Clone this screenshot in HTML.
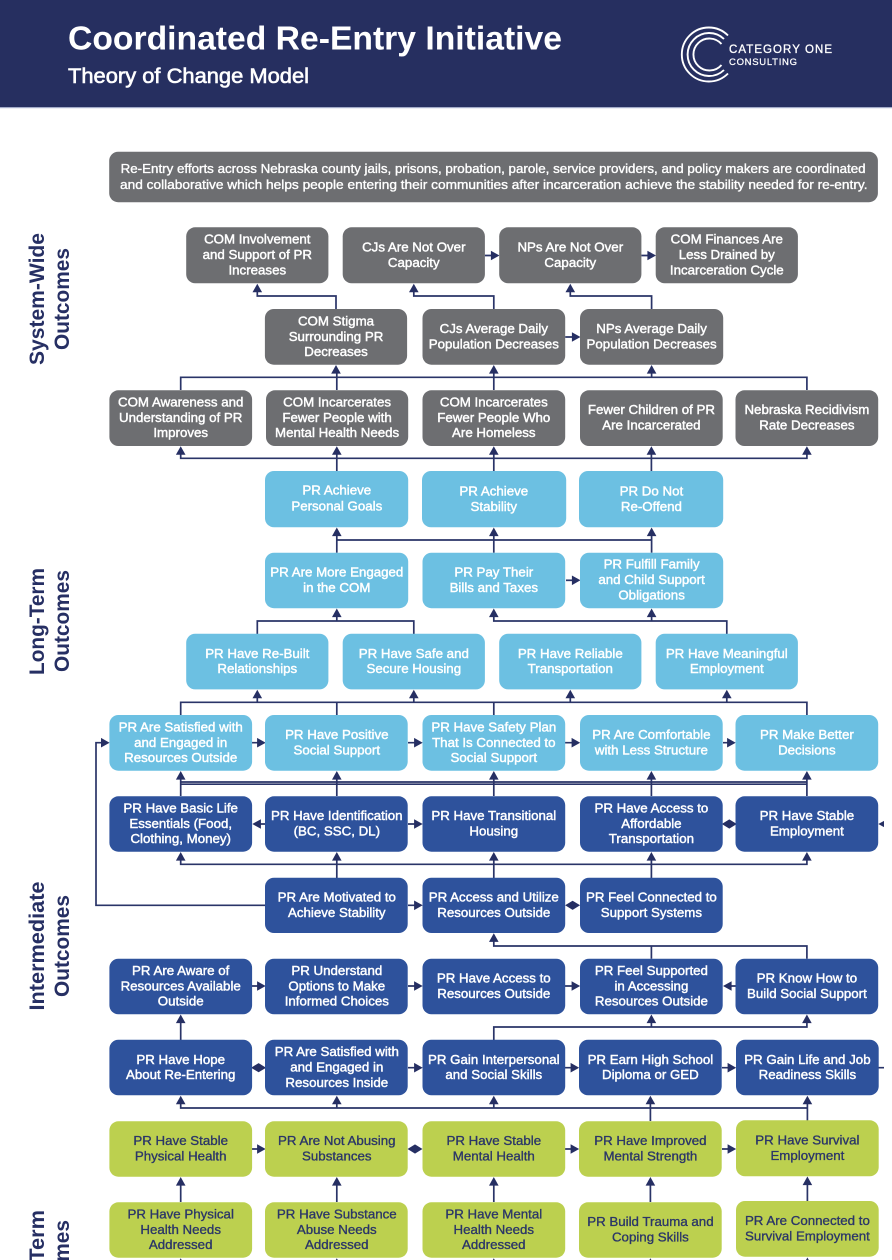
<!DOCTYPE html>
<html><head><meta charset="utf-8"><title>Coordinated Re-Entry Initiative</title>
<style>
html,body{margin:0;padding:0;background:#fff;width:892px;height:1260px;overflow:hidden}
svg{display:block;overflow:hidden}
text{font-family:"Liberation Sans",sans-serif}
.b text{font-size:13.3px;font-weight:400;text-anchor:middle;fill:#fff;stroke:#fff;stroke-width:.44px}
.b.g text{fill:#2b3668;stroke:#2b3668;stroke-width:.34px}
</style></head><body>
<svg width="892" height="1260" viewBox="0 0 892 1260" xmlns="http://www.w3.org/2000/svg">
<defs>
<path id="u" d="M0 0L4.8 8.6H-4.8Z" fill="#262f63"/>
<path id="r" d="M0 0L-8.6 -4.8V4.8Z" fill="#262f63"/>
<path id="l" d="M0 0L8.6 -4.8V4.8Z" fill="#262f63"/>
<path id="d" d="M-7.5 0L0 -4.6L7.5 0L0 4.6Z" fill="#262f63"/>
<clipPath id="c"><rect width="884" height="1260"/></clipPath>
<clipPath id="p"><rect width="892" height="1260"/></clipPath>
</defs>
<g clip-path="url(#p)">
<rect width="892" height="1260" fill="#fff"/>
<rect width="892" height="107" fill="#262f60"/>
<rect y="107" width="892" height="1.2" fill="#a3abc9"/>
<text x="68" y="49.5" font-size="33" font-weight="700" fill="#fff" textLength="494" lengthAdjust="spacingAndGlyphs">Coordinated Re-Entry Initiative</text>
<text x="68" y="83" font-size="21" fill="#fff" stroke="#fff" stroke-width=".6" textLength="241" lengthAdjust="spacingAndGlyphs">Theory of Change Model</text>
<g fill="none" stroke="#fff" stroke-width="1.9">
<path d="M728 35.5A27 27 0 1 0 728 73.5"/>
<path d="M724 39A21.5 21.5 0 1 0 724 70"/>
<path d="M721.5 44A16 16 0 1 0 721.5 65"/>
</g>
<text x="729" y="53" font-size="11.5" fill="#fff" stroke="#fff" stroke-width=".3" textLength="103" lengthAdjust="spacing">CATEGORY ONE</text>
<text x="729" y="65" font-size="9.5" fill="#fff" stroke="#fff" stroke-width=".25" textLength="68" lengthAdjust="spacing">CONSULTING</text>

<rect x="109.2" y="151.7" width="768.7" height="50.5" rx="9" fill="#6d6e71"/>
<text x="120.6" y="173" font-size="13" fill="#fff" stroke="#fff" stroke-width=".36" textLength="745" lengthAdjust="spacingAndGlyphs">Re-Entry efforts across Nebraska county jails, prisons, probation, parole, service providers, and policy makers are coordinated</text>
<text x="120" y="189" font-size="13" fill="#fff" stroke="#fff" stroke-width=".36" textLength="747.5" lengthAdjust="spacingAndGlyphs">and collaborative which helps people entering their communities after incarceration achieve the stability needed for re-entry.</text>

<g font-size="21" font-weight="700" fill="#262f63" text-anchor="middle">
<text transform="translate(44,299) rotate(-90)" textLength="132" lengthAdjust="spacingAndGlyphs">System-Wide</text>
<text transform="translate(69,299) rotate(-90)" textLength="102" lengthAdjust="spacingAndGlyphs">Outcomes</text>
<text transform="translate(44,621.5) rotate(-90)" textLength="107" lengthAdjust="spacingAndGlyphs">Long-Term</text>
<text transform="translate(69,621) rotate(-90)" textLength="102" lengthAdjust="spacingAndGlyphs">Outcomes</text>
<text transform="translate(44,946) rotate(-90)" textLength="129" lengthAdjust="spacingAndGlyphs">Intermediate</text>
<text transform="translate(69,946) rotate(-90)" textLength="102" lengthAdjust="spacingAndGlyphs">Outcomes</text>
<text transform="translate(44,1268) rotate(-90)" textLength="116" lengthAdjust="spacingAndGlyphs">Short-Term</text>
<text transform="translate(69,1271) rotate(-90)" textLength="102" lengthAdjust="spacingAndGlyphs">Outcomes</text>
</g>

<!-- connectors -->
<g clip-path="url(#c)">
<g fill="none" stroke="#2a3468" stroke-width="1.7">
<path d="M257.3 290V296H336V309M413.8 290V296H493.8V309M570.3 290V296H651.6V309"/>
<path d="M484.9 255.5H496M641.4 255.5H653M565.2 337H575"/>
<path d="M180.7 390V377.3H806.9V390M336.8 372V390M493.8 372V390M651.6 372V377.3"/>
<path d="M180.7 453V458.3H806.9V453M336.8 453V471M493.8 453V471M651.4 453V471"/>
<path d="M336.8 535V552.7M493.8 535V552.7M651.6 535V552.7M336.8 540H651.6"/>
<path d="M566 580.3H575"/>
<path d="M257.3 634V621H413.8V634M336.8 616V621M493.8 616V621H726.8V634M651.6 616V621"/>
<path d="M180.7 715V702.3H806.9V715M257.3 697V702.3M413.8 697V702.3M570.3 697V702.3M726.8 697V702.3M336.8 702.3V715M493.8 702.3V715"/>
<path d="M252 742.7H260M408 742.7H417M565 742.7H575M723 742.7H731"/>
<path d="M265.5 905.3H96V742.7H104M408 905.3H417"/>
<path d="M180.7 778V796M336.8 778V796M493.8 778V796M651.4 778V796M806.9 778V796M180.7 782H806.9M180.7 784.2H806.9"/>
<path d="M265.5 824H258M408 824H417"/>
<path d="M180.7 859V864.3H806.9V859M336.8 859V878M493.8 859V878M651.4 859V878"/>
<path d="M493.8 941V946H806.9V958.7M651.4 946V958.7"/>
<path d="M252 986H260M408 986H417M565 986H575M736 986H729"/>
<path d="M180.7 1022V1040M493.8 1040V1027H806.9V1022M651.4 1022V1027"/>
<path d="M408 1067.7H417M565 1067.7H575M722 1067.7H730M878.5 1067.7H884"/>
<path d="M180.7 1103V1108H807.4V1103M336.8 1103V1108M493.8 1103V1108M650.4 1103V1121M807.4 1103V1121"/>
<path d="M252 1149H260M565 1149H575M722 1149H731"/>
<path d="M180.7 1184V1202M336.8 1184V1202M493.8 1184V1202M650.4 1184V1202M807.4 1183V1201"/>
</g>
<use href="#u" x="257.3" y="283.7"/><use href="#u" x="413.8" y="283.7"/><use href="#u" x="570.3" y="283.7"/>
<use href="#r" x="499.5" y="255.5"/><use href="#r" x="656" y="255.5"/><use href="#r" x="580.5" y="337"/>
<use href="#u" x="336" y="365"/><use href="#u" x="493.8" y="365"/><use href="#u" x="651.6" y="365"/>
<use href="#u" x="180.7" y="446.2"/><use href="#u" x="336.8" y="446.2"/><use href="#u" x="493.8" y="446.2"/><use href="#u" x="651.4" y="446.2"/><use href="#u" x="806.9" y="446.2"/>
<use href="#u" x="336.8" y="527.5"/><use href="#u" x="493.8" y="527.5"/><use href="#u" x="651.6" y="527.5"/>
<use href="#r" x="580.5" y="580.3"/>
<use href="#u" x="336.8" y="608.5"/><use href="#u" x="493.8" y="608.5"/><use href="#u" x="651.6" y="608.5"/>
<use href="#u" x="257.3" y="689.7"/><use href="#u" x="413.8" y="689.7"/><use href="#u" x="570.3" y="689.7"/><use href="#u" x="726.8" y="689.7"/>
<use href="#r" x="109.6" y="742.7"/><use href="#r" x="265.7" y="742.7"/><use href="#r" x="422.7" y="742.7"/><use href="#r" x="580.2" y="742.7"/><use href="#r" x="735.7" y="742.7"/>
<use href="#u" x="180.7" y="771"/><use href="#u" x="336.8" y="771"/><use href="#u" x="493.8" y="771"/><use href="#u" x="651.4" y="771"/><use href="#u" x="806.9" y="771"/>
<use href="#l" x="252.3" y="824"/><use href="#r" x="422.7" y="824"/><use href="#d" x="729.3" y="824"/><use href="#l" x="878.3" y="824"/>
<use href="#u" x="180.7" y="852"/><use href="#u" x="336.8" y="852"/><use href="#u" x="493.8" y="852"/><use href="#u" x="651.4" y="852"/><use href="#u" x="806.9" y="852"/>
<use href="#r" x="422.7" y="905.3"/><use href="#d" x="572.6" y="905.3"/>
<use href="#u" x="493.8" y="933.3"/>
<use href="#r" x="265.7" y="986"/><use href="#r" x="422.7" y="986"/><use href="#r" x="580.2" y="986"/><use href="#l" x="723" y="986"/>
<use href="#u" x="180.7" y="1014.5"/><use href="#u" x="651.4" y="1014.5"/><use href="#u" x="806.9" y="1014.5"/>
<use href="#d" x="258.6" y="1067.7"/><use href="#r" x="422.7" y="1067.7"/><use href="#r" x="579.2" y="1067.7"/><use href="#r" x="736.2" y="1067.7"/>
<use href="#u" x="180.7" y="1095.7"/><use href="#u" x="336.8" y="1095.7"/><use href="#u" x="493.8" y="1095.7"/><use href="#u" x="650.4" y="1095.7"/><use href="#u" x="807.4" y="1095.7"/>
<use href="#r" x="265.7" y="1149"/><use href="#d" x="415" y="1149"/><use href="#r" x="579.2" y="1149"/><use href="#r" x="736.2" y="1149"/>
<use href="#u" x="180.7" y="1177"/><use href="#u" x="336.8" y="1177"/><use href="#u" x="493.8" y="1177"/><use href="#u" x="650.4" y="1177"/><use href="#u" x="807.4" y="1176.5"/>
<use href="#u" x="180.7" y="1258.2"/><use href="#u" x="336.8" y="1258.2"/><use href="#u" x="493.8" y="1258.2"/><use href="#u" x="650.4" y="1258.2"/><use href="#u" x="807.4" y="1257.5"/>
</g>

<!-- gray boxes -->
<g fill="#6d6e71">
<rect x="186.2" y="227.3" width="142.2" height="56" rx="9"/><rect x="342.7" y="227.3" width="142.2" height="56" rx="9"/><rect x="499.2" y="227.3" width="142.2" height="56" rx="9"/><rect x="655.7" y="227.3" width="142.2" height="56" rx="9"/>
<rect x="264.9" y="309" width="142.2" height="55.7" rx="9"/><rect x="422.5" y="309" width="142.7" height="55.7" rx="9"/><rect x="580" y="309" width="143.2" height="55.7" rx="9"/>
<rect x="109.4" y="390.3" width="142.7" height="55.7" rx="9"/><rect x="266" y="390.3" width="142.2" height="55.7" rx="9"/><rect x="422.5" y="390.3" width="142.7" height="55.7" rx="9"/><rect x="580" y="390.3" width="142.7" height="55.7" rx="9"/><rect x="735.5" y="390.3" width="142.7" height="55.7" rx="9"/>
</g>
<!-- light blue -->
<g fill="#6cc0e2">
<rect x="265" y="471" width="143.2" height="56.3" rx="9"/><rect x="422" y="471" width="144.2" height="56.3" rx="9"/><rect x="579" y="471" width="144.2" height="56.3" rx="9"/>
<rect x="265" y="552.7" width="143.2" height="55.5" rx="9"/><rect x="422.5" y="552.7" width="142.7" height="55.5" rx="9"/><rect x="580" y="552.7" width="143.2" height="55.5" rx="9"/>
<rect x="186.2" y="633.7" width="142.2" height="55.7" rx="9"/><rect x="342.7" y="633.7" width="142.2" height="55.7" rx="9"/><rect x="499.2" y="633.7" width="142.2" height="55.7" rx="9"/><rect x="655.7" y="633.7" width="142.2" height="55.7" rx="9"/>
<rect x="109.4" y="715" width="142.7" height="55.7" rx="9"/><rect x="265" y="715" width="142.7" height="55.7" rx="9"/><rect x="422.5" y="715" width="142.7" height="55.7" rx="9"/><rect x="580" y="715" width="142.7" height="55.7" rx="9"/><rect x="735.5" y="715" width="142.7" height="55.7" rx="9"/>
</g>
<!-- dark blue -->
<g fill="#2e529c">
<rect x="109.4" y="796.3" width="142.7" height="55.4" rx="9"/><rect x="265" y="796.3" width="142.7" height="55.4" rx="9"/><rect x="422.5" y="796.3" width="142.7" height="55.4" rx="9"/><rect x="580" y="796.3" width="142.7" height="55.4" rx="9"/><rect x="735.5" y="796.3" width="142.7" height="55.4" rx="9"/>
<rect x="265" y="877.7" width="142.7" height="55.3" rx="9"/><rect x="422.5" y="877.7" width="142.7" height="55.3" rx="9"/><rect x="580" y="877.7" width="142.7" height="55.3" rx="9"/>
<rect x="109.4" y="958.7" width="142.7" height="55.6" rx="9"/><rect x="265" y="958.7" width="142.7" height="55.6" rx="9"/><rect x="422.5" y="958.7" width="142.7" height="55.6" rx="9"/><rect x="580" y="958.7" width="142.7" height="55.6" rx="9"/><rect x="735.5" y="958.7" width="142.7" height="55.6" rx="9"/>
<rect x="109.4" y="1039.7" width="142.7" height="55.6" rx="9"/><rect x="265" y="1039.7" width="142.7" height="55.6" rx="9"/><rect x="422.5" y="1039.7" width="142.7" height="55.6" rx="9"/><rect x="579" y="1039.7" width="142.7" height="55.6" rx="9"/><rect x="736" y="1039.7" width="142.7" height="55.6" rx="9"/>
</g>
<!-- green -->
<g fill="#bcd04f">
<rect x="109.4" y="1121.3" width="142.7" height="55.4" rx="9"/><rect x="265" y="1121.3" width="142.7" height="55.4" rx="9"/><rect x="422.5" y="1121.3" width="142.7" height="55.4" rx="9"/><rect x="579" y="1121.3" width="142.7" height="55.4" rx="9"/><rect x="736" y="1120.3" width="142.7" height="56" rx="9"/>
<rect x="109.4" y="1202.3" width="142.7" height="55.4" rx="9"/><rect x="265" y="1202.3" width="142.7" height="55.4" rx="9"/><rect x="422.5" y="1202.3" width="142.7" height="55.4" rx="9"/><rect x="579" y="1202.3" width="142.7" height="55.4" rx="9"/><rect x="736" y="1201" width="142.7" height="55.7" rx="9"/>
</g>

<g class="b" transform="translate(0,-0.7)">
<!-- row 1 -->
<text x="257.3" y="244.4">COM Involvement</text><text x="257.3" y="259.8">and Support of PR</text><text x="257.3" y="275.2">Increases</text>
<text x="413.8" y="252.1">CJs Are Not Over</text><text x="413.8" y="267.5">Capacity</text>
<text x="570.3" y="252.1">NPs Are Not Over</text><text x="570.3" y="267.5">Capacity</text>
<text x="726.8" y="244.4">COM Finances Are</text><text x="726.8" y="259.8">Less Drained by</text><text x="726.8" y="275.2">Incarceration Cycle</text>
<!-- row 2 -->
<text x="336" y="326.1">COM Stigma</text><text x="336" y="341.5">Surrounding PR</text><text x="336" y="356.9">Decreases</text>
<text x="493.8" y="333.8">CJs Average Daily</text><text x="493.8" y="349.2">Population Decreases</text>
<text x="651.6" y="333.8">NPs Average Daily</text><text x="651.6" y="349.2">Population Decreases</text>
<!-- row 3 -->
<text x="180.7" y="407.1">COM Awareness and</text><text x="180.7" y="422.5">Understanding of PR</text><text x="180.7" y="437.9">Improves</text>
<text x="337.1" y="407.1">COM Incarcerates</text><text x="337.1" y="422.5">Fewer People with</text><text x="337.1" y="437.9">Mental Health Needs</text>
<text x="493.8" y="407.1">COM Incarcerates</text><text x="493.8" y="422.5">Fewer People Who</text><text x="493.8" y="437.9">Are Homeless</text>
<text x="651.4" y="414.8">Fewer Children of PR</text><text x="651.4" y="430.2">Are Incarcerated</text>
<text x="806.9" y="414.8">Nebraska Recidivism</text><text x="806.9" y="430.2">Rate Decreases</text>
<!-- row 4 -->
<text x="336.8" y="495.2">PR Achieve</text><text x="336.8" y="511">Personal Goals</text>
<text x="493.8" y="496.1">PR Achieve</text><text x="493.8" y="511.5">Stability</text>
<text x="651.4" y="496.1">PR Do Not</text><text x="651.4" y="511.5">Re-Offend</text>
<!-- row 5 -->
<text x="336.8" y="577.1">PR Are More Engaged</text><text x="336.8" y="592.5">in the COM</text>
<text x="493.8" y="577.1">PR Pay Their</text><text x="493.8" y="592.5">Bills and Taxes</text>
<text x="651.6" y="569.4">PR Fulfill Family</text><text x="651.6" y="584.8">and Child Support</text><text x="651.6" y="600.2">Obligations</text>
<!-- row 6 -->
<text x="257.3" y="658.5">PR Have Re-Built</text><text x="257.3" y="673.9">Relationships</text>
<text x="413.8" y="658.5">PR Have Safe and</text><text x="413.8" y="673.9">Secure Housing</text>
<text x="570.3" y="658.5">PR Have Reliable</text><text x="570.3" y="673.9">Transportation</text>
<text x="726.8" y="658.5">PR Have Meaningful</text><text x="726.8" y="673.9">Employment</text>
<!-- row 7 -->
<text x="180.7" y="732.1">PR Are Satisfied with</text><text x="180.7" y="747.5">and Engaged in</text><text x="180.7" y="762.9">Resources Outside</text>
<text x="336.8" y="739.8">PR Have Positive</text><text x="336.8" y="755.2">Social Support</text>
<text x="493.8" y="732.1">PR Have Safety Plan</text><text x="493.8" y="747.5">That Is Connected to</text><text x="493.8" y="762.9">Social Support</text>
<text x="651.4" y="739.8">PR Are Comfortable</text><text x="651.4" y="755.2">with Less Structure</text>
<text x="806.9" y="739.8">PR Make Better</text><text x="806.9" y="755.2">Decisions</text>
<!-- row 8 -->
<text x="180.7" y="813.1">PR Have Basic Life</text><text x="180.7" y="828.5">Essentials (Food,</text><text x="180.7" y="843.9">Clothing, Money)</text>
<text x="336.8" y="820.8">PR Have Identification</text><text x="336.8" y="836.2">(BC, SSC, DL)</text>
<text x="493.8" y="820.8">PR Have Transitional</text><text x="493.8" y="836.2">Housing</text>
<text x="651.4" y="813.1">PR Have Access to</text><text x="651.4" y="828.5">Affordable</text><text x="651.4" y="843.9">Transportation</text>
<text x="806.9" y="820.8">PR Have Stable</text><text x="806.9" y="836.2">Employment</text>
<!-- row 9 -->
<text x="336.8" y="902.1">PR Are Motivated to</text><text x="336.8" y="917.5">Achieve Stability</text>
<text x="493.8" y="902.1">PR Access and Utilize</text><text x="493.8" y="917.5">Resources Outside</text>
<text x="651.4" y="902.1">PR Feel Connected to</text><text x="651.4" y="917.5">Support Systems</text>
<!-- row 10 -->
<text x="180.7" y="975.6">PR Are Aware of</text><text x="180.7" y="991">Resources Available</text><text x="180.7" y="1006.4">Outside</text>
<text x="336.8" y="975.6">PR Understand</text><text x="336.8" y="991">Options to Make</text><text x="336.8" y="1006.4">Informed Choices</text>
<text x="493.8" y="983.3">PR Have Access to</text><text x="493.8" y="998.7">Resources Outside</text>
<text x="651.4" y="975.6">PR Feel Supported</text><text x="651.4" y="991">in Accessing</text><text x="651.4" y="1006.4">Resources Outside</text>
<text x="806.9" y="983.3">PR Know How to</text><text x="806.9" y="998.7">Build Social Support</text>
<!-- row 11 -->
<text x="180.7" y="1064.5">PR Have Hope</text><text x="180.7" y="1079.9">About Re-Entering</text>
<text x="336.8" y="1056.8">PR Are Satisfied with</text><text x="336.8" y="1072.2">and Engaged in</text><text x="336.8" y="1087.6">Resources Inside</text>
<text x="493.8" y="1064.5">PR Gain Interpersonal</text><text x="493.8" y="1079.9">and Social Skills</text>
<text x="650.4" y="1064.5">PR Earn High School</text><text x="650.4" y="1079.9">Diploma or GED</text>
<text x="807.4" y="1064.5">PR Gain Life and Job</text><text x="807.4" y="1079.9">Readiness Skills</text>
</g>
<g class="b g" transform="translate(0,-0.7)">
<!-- row 12 -->
<text x="180.7" y="1145.8">PR Have Stable</text><text x="180.7" y="1161.2">Physical Health</text>
<text x="336.8" y="1145.8">PR Are Not Abusing</text><text x="336.8" y="1161.2">Substances</text>
<text x="493.8" y="1145.8">PR Have Stable</text><text x="493.8" y="1161.2">Mental Health</text>
<text x="650.4" y="1145.8">PR Have Improved</text><text x="650.4" y="1161.2">Mental Strength</text>
<text x="807.4" y="1145.3">PR Have Survival</text><text x="807.4" y="1160.5">Employment</text>
<!-- row 13 -->
<text x="180.7" y="1219.1">PR Have Physical</text><text x="180.7" y="1234.5">Health Needs</text><text x="180.7" y="1249.9">Addressed</text>
<text x="336.8" y="1219.1">PR Have Substance</text><text x="336.8" y="1234.5">Abuse Needs</text><text x="336.8" y="1249.9">Addressed</text>
<text x="493.8" y="1219.1">PR Have Mental</text><text x="493.8" y="1234.5">Health Needs</text><text x="493.8" y="1249.9">Addressed</text>
<text x="650.4" y="1226.8">PR Build Trauma and</text><text x="650.4" y="1242.2">Coping Skills</text>
<text x="807.4" y="1225.8">PR Are Connected to</text><text x="807.4" y="1241.2">Survival Employment</text>
</g>
</g>
</svg>
</body></html>
